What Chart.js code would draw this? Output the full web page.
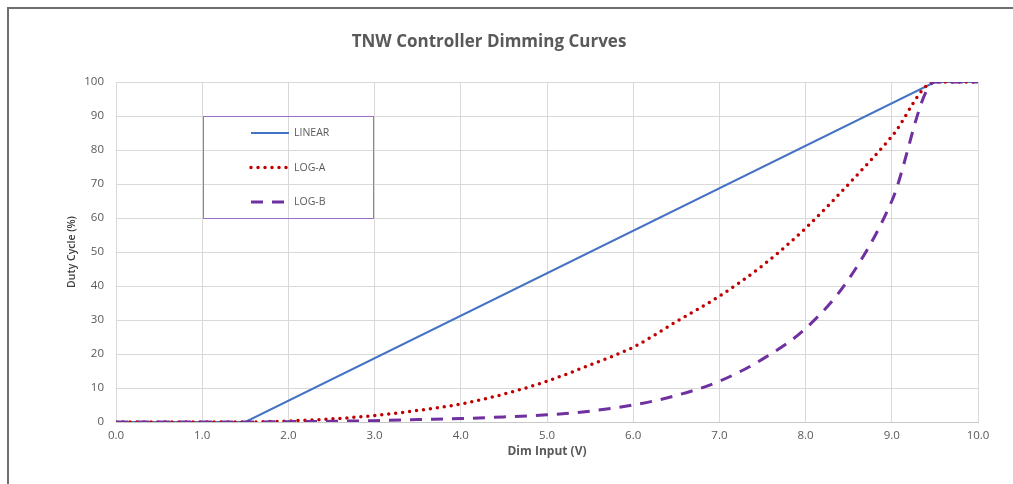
<!DOCTYPE html>
<html>
<head>
<meta charset="utf-8">
<script src="https://cdn.jsdelivr.net/npm/chart.js@4"></script>
<style>
    body { margin: 0; background: #fff; }
    #wrap { position: relative; width: 1013px; height: 484px; overflow: hidden; }
    #frame { position: absolute; left: 7px; top: 7px; width: 1100px; height: 600px;
             border-left: 2px solid #6e6e6e; border-top: 2px solid #6e6e6e; }
    canvas { position: absolute; left: 0; top: 0; }
</style>
</head>
<body>
<div id="wrap">
    <div id="frame"></div>
    <canvas id="dimChart" width="1013" height="484"></canvas>
</div>
<script>
// Dimming curve values
const dimInput = [0, 0.5, 1, 1.5, 2, 2.5, 3, 3.5, 4, 4.5, 5, 5.5, 6, 6.5, 7, 7.5, 8, 8.5, 9, 9.5, 10];
const linearInput = [0, 1.5, 9.5, 10];
const linearDuty = [0, 0, 100, 100];
const logADuty = [0, 0, 0, 0, 0.3, 0.9, 1.9, 3.4, 5.3, 8.2, 12, 16.8, 22, 29.5, 37, 46, 57, 70, 84, 100, 100];
const logBDuty = [0, 0, 0, 0, 0.1, 0.2, 0.4, 0.7, 1.0, 1.5, 2.1, 3.2, 5.0, 7.8, 12, 18.5, 27.5, 42, 65, 100, 100];
const seriesNames = ['LINEAR', 'LOG-A', 'LOG-B'];

const FONT = "'Open Sans', 'Noto Sans', sans-serif";
const GREY = '#595959';

function toPoints(xs, ys) {
    return xs.map((x, i) => ({ x: x, y: ys[i] }));
}

// Legend drawn as a framed box inside the plot, like the original
const boxLegend = {
    id: 'boxLegend',
    afterDraw(chart) {
        const ctx = chart.ctx;
        const box = { x: 203.5, y: 116.5, w: 170, h: 102 };
        ctx.save();
        ctx.strokeStyle = '#9a70c8';
        ctx.lineWidth = 1;
        ctx.strokeRect(box.x, box.y, box.w, box.h);
        ctx.font = '10.5px ' + FONT;
        ctx.fillStyle = GREY;
        ctx.textBaseline = 'middle';
        chart.data.datasets.forEach((ds, i) => {
            const y = 133 + i * 34.5;
            ctx.beginPath();
            ctx.strokeStyle = ds.borderColor;
            ctx.lineWidth = ds.borderWidth;
            ctx.lineCap = ds.borderCapStyle || 'butt';
            ctx.setLineDash(ds.borderDash || []);
            ctx.moveTo(251, y);
            ctx.lineTo(289, y);
            ctx.stroke();
            ctx.setLineDash([]);
            ctx.fillText(ds.label, 294, y + 0.5);
        });
        ctx.restore();
    }
};

new Chart(document.getElementById('dimChart'), {
    type: 'line',
    data: {
        datasets: [
            {
                label: seriesNames[0],
                data: toPoints(linearInput, linearDuty),
                borderColor: '#4472c4',
                borderWidth: 2,
                tension: 0,
                pointRadius: 0,
                order: 3
            },
            {
                label: seriesNames[1],
                data: toPoints(dimInput, logADuty),
                borderColor: '#c00000',
                borderWidth: 3.5,
                borderDash: [0, 7],
                borderCapStyle: 'round',
                cubicInterpolationMode: 'monotone',
                pointRadius: 0,
                order: 2
            },
            {
                label: seriesNames[2],
                data: toPoints(dimInput, logBDuty),
                borderColor: '#7030a0',
                borderWidth: 3,
                borderDash: [12, 9],
                cubicInterpolationMode: 'monotone',
                pointRadius: 0,
                order: 1
            }
        ]
    },
    options: {
        responsive: false,
        animation: false,
        layout: { padding: { left: 0, right: 35, top: 0, bottom: 0 } },
        plugins: {
            legend: { display: false },
            tooltip: { enabled: false },
            title: {
                display: true,
                text: 'TNW Controller Dimming Curves',
                color: GREY,
                font: { family: FONT, size: 17, weight: 'bold', lineHeight: 1.2 },
                padding: { top: 31.8, bottom: 29.8 }
            }
        },
        scales: {
            x: {
                type: 'linear',
                min: 0,
                max: 10,
                afterFit: scale => { scale.height = 62; },
                ticks: {
                    stepSize: 1,
                    color: GREY,
                    padding: 7,
                    maxRotation: 0,
                    font: { family: FONT, size: 11.5 },
                    callback: v => v.toFixed(1)
                },
                grid: { color: '#d9d9d9', drawTicks: false },
                border: { color: '#c8c8c8' },
                title: {
                    display: true,
                    text: 'Dim Input (V)',
                    color: GREY,
                    font: { family: FONT, size: 12, weight: 'bold', lineHeight: 1.2 },
                    padding: { top: 0, bottom: 25 }
                }
            },
            y: {
                min: 0,
                max: 100,
                afterFit: scale => { scale.width = 116; },
                ticks: {
                    stepSize: 10,
                    color: GREY,
                    padding: 12,
                    font: { family: FONT, size: 11.5 }
                },
                grid: { color: '#d9d9d9', drawTicks: false },
                border: { display: false },
                title: {
                    display: true,
                    text: 'Duty Cycle (%)',
                    color: '#404040',
                    font: { family: FONT, size: 10.5, weight: '600', lineHeight: 1.2 },
                    padding: { top: 65.7, bottom: 0 }
                }
            }
        }
    },
    plugins: [boxLegend]
});
</script>
</body>
</html>
